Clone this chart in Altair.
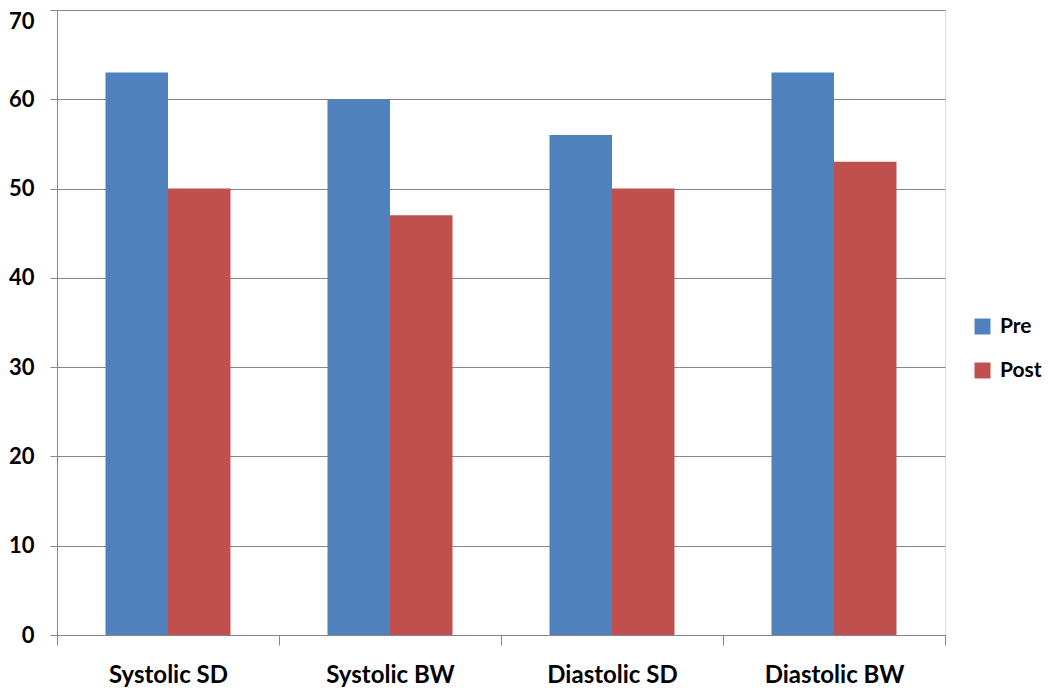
import altair as alt
import pandas as pd

categories = ["Systolic SD", "Systolic BW", "Diastolic SD", "Diastolic BW"]
pre_values = [63, 60, 56, 63]
post_values = [50, 47, 50, 53]
series = ["Pre", "Post"]
colors = ["#4F81BD", "#C0504D"]

rows = []
for c, a, b in zip(categories, pre_values, post_values):
    rows.append({"category": c, "series": "Pre", "value": a})
    rows.append({"category": c, "series": "Post", "value": b})
df = pd.DataFrame(rows)

FONT = "Lato"

bars = alt.Chart(df).mark_bar(size=62.5).encode(
    x=alt.X("category:N", sort=categories, title=None,
            scale=alt.Scale(paddingInner=0, paddingOuter=0),
            axis=alt.Axis(labelAngle=0, tickBand="extent", tickSize=10,
                          labelPadding=18, labelFontSize=24, labelFont=FONT,
                          labelFontWeight="bold", labelColor="black",
                          domainColor="#868686", tickColor="#868686",
                          grid=False)),
    xOffset=alt.XOffset("series:N", sort=series,
                        scale=alt.Scale(paddingInner=0, paddingOuter=0.776)),
    y=alt.Y("value:Q", title=None,
            scale=alt.Scale(domain=[0, 70], nice=False),
            axis=alt.Axis(values=[0, 10, 20, 30, 40, 50, 60, 70], tickSize=7,
                          labelPadding=16, labelFontSize=22, labelFont=FONT,
                          labelFontWeight="bold", labelColor="black",
                          labelOffset=alt.ExprRef("datum.value == 70 ? 11 : 0"),
                          domainColor="#868686", tickColor="#868686",
                          gridColor="#868686", gridWidth=1.2)),
    color=alt.Color("series:N", sort=series,
                    scale=alt.Scale(domain=series, range=colors),
                    legend=alt.Legend(title=None, orient="none", legendX=915,
                                      legendY=306, symbolType="square",
                                      symbolSize=256, symbolStrokeWidth=0,
                                      labelFontSize=21, labelFont=FONT,
                                      labelFontWeight="bold", labelColor="black",
                                      rowPadding=22, labelOffset=7)),
)

chart = bars.properties(
    width=888, height=625,
    autosize=alt.AutoSizeParams(type="none"),
    padding={"left": 49, "top": 2, "right": 97, "bottom": 52},
).configure_view(stroke=None).configure(background="white")

chart.save("out.html", embed_options={"renderer": "svg", "actions": False})
